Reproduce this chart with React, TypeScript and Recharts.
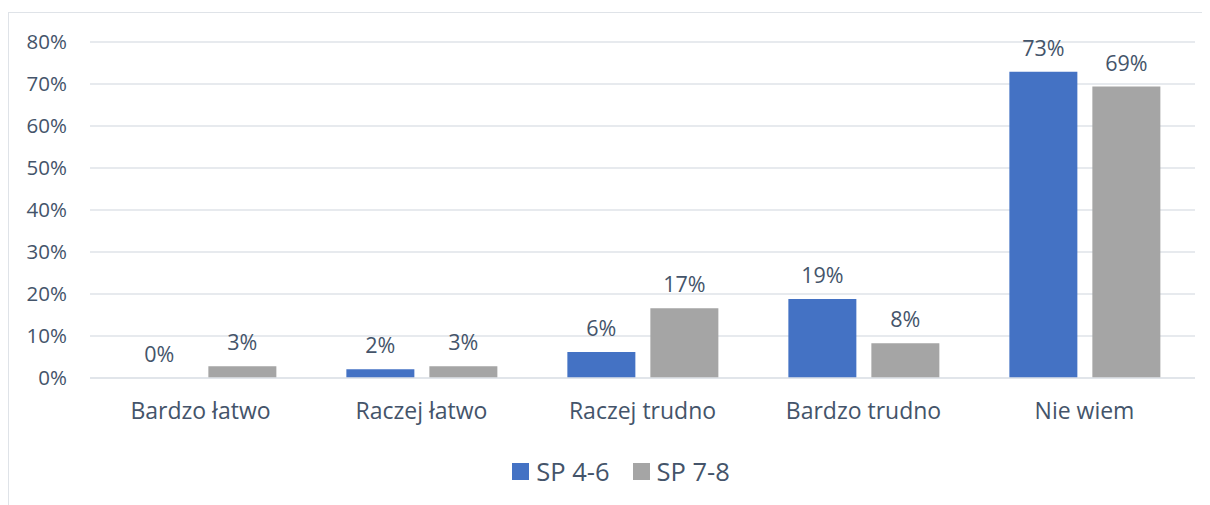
import React from "react";
import { BarChart, Bar, XAxis, YAxis, CartesianGrid, Legend, LabelList } from "recharts";

const categories = ["Bardzo łatwo", "Raczej łatwo", "Raczej trudno", "Bardzo trudno", "Nie wiem"];
const sp46 = [0, 2.1, 6.2, 18.8, 72.9];
const sp78 = [2.8, 2.8, 16.6, 8.3, 69.4];
const yTicks = [0, 10, 20, 30, 40, 50, 60, 70, 80];

const TEXT = "#44546a";
const BLUE = "#4472c4";
const GRAY = "#a5a5a5";
const GRID = "#dfe3e8";
const FONT = "'Open Sans', sans-serif";

const data = categories.map((name, i) => ({ name, sp46: sp46[i], sp78: sp78[i] }));

const pct = (v: number) => `${Math.round(v)}%`;

function LegendBox() {
  const items = [
    { label: "SP 4-6", color: BLUE },
    { label: "SP 7-8", color: GRAY },
  ];
  return (
    <div style={{ display: "flex", justifyContent: "center", gap: 23, paddingLeft: 23, fontFamily: FONT, fontSize: 25.5, color: TEXT }}>
      {items.map((it) => (
        <div key={it.label} style={{ display: "flex", alignItems: "center", gap: 7 }}>
          <span style={{ width: 17, height: 17, background: it.color, display: "inline-block" }} />
          <span>{it.label}</span>
        </div>
      ))}
    </div>
  );
}

export default function App() {
  return (
    <div
      style={{
        marginTop: 4,
        width: 1210,
        height: 500,
        border: `1px solid ${GRID}`,
        boxSizing: "border-box",
        background: "#fff",
        overflow: "hidden",
      }}
    >
      <BarChart
        width={1201}
        height={492}
        data={data}
        margin={{ top: 29, right: 15, left: 21, bottom: 63 }}
        barCategoryGap="16%"
        barGap={15}
      >
        <CartesianGrid vertical={false} stroke={GRID} strokeWidth={1.5} />
        <XAxis
          dataKey="name"
          axisLine={{ stroke: GRID, strokeWidth: 1.5 }}
          tickLine={false}
          tickMargin={19}
          tick={{ fill: TEXT, fontSize: 23, fontFamily: FONT }}
          interval={0}
        />
        <YAxis
          width={60}
          domain={[0, 80]}
          ticks={yTicks}
          tickFormatter={pct}
          axisLine={false}
          tickLine={false}
          tickMargin={17}
          tick={{ fill: TEXT, fontSize: 20.5, fontFamily: FONT }}
        />
        <Legend content={<LegendBox />} wrapperStyle={{ top: 441, left: 0, width: 1201 }} />
        <Bar dataKey="sp46" name="SP 4-6" fill={BLUE} minPointSize={(v: number) => (v === 0 ? 0.01 : 0)} isAnimationActive={false}>
          <LabelList dataKey="sp46" position="top" offset={16} formatter={pct} fill={TEXT} fontSize={21.5} fontFamily={FONT} />
        </Bar>
        <Bar dataKey="sp78" name="SP 7-8" fill={GRAY} isAnimationActive={false}>
          <LabelList dataKey="sp78" position="top" offset={16} formatter={pct} fill={TEXT} fontSize={21.5} fontFamily={FONT} />
        </Bar>
      </BarChart>
    </div>
  );
}
